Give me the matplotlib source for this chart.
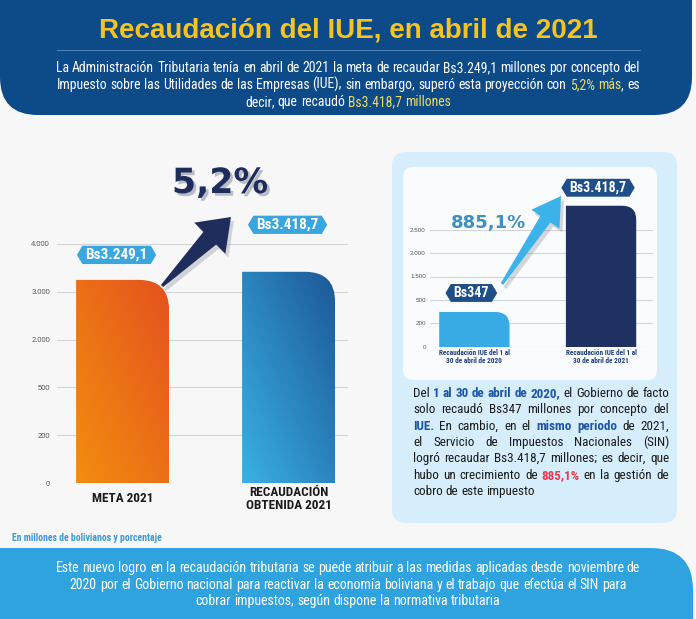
import numpy as np
import matplotlib
matplotlib.use('Agg')
import matplotlib.pyplot as plt
import matplotlib.transforms as mtransforms
import matplotlib.patheffects as pe
from matplotlib.patches import FancyBboxPatch, PathPatch, Polygon
from matplotlib.path import Path
from matplotlib.colors import LinearSegmentedColormap

W, H = 696, 619

# ---- data ----
left_cats = ['META 2021', 'RECAUDACIÓN\nOBTENIDA 2021']
left_vals = [3249.1, 3418.7]
left_labels = ['Bs3.249,1', 'Bs3.418,7']
left_ticks = [0, 200, 500, 2000, 3000, 4000]
left_ticklabels = ['0', '200', '500', '2.000', '3.000', '4.000']
left_growth = '5,2%'

right_cats = ['Recaudación IUE del 1 al\n30 de abril de 2020',
              'Recaudación IUE del 1 al\n30 de abril de 2021']
right_vals = [347, 3418.7]
right_labels = ['Bs347', 'Bs3.418,7']
right_ticks = [0, 200, 500, 1500, 2000, 2500]
right_ticklabels = ['0', '200', '500', '1.500', '2.000', '2.500']
right_growth = '885,1%'

title = 'Recaudación del IUE, en abril de 2021'
intro = [
    [('La Administración Tributaria tenía en abril de 2021 la meta de recaudar Bs3.249,1 millones por concepto del', 'w')],
    [('Impuesto sobre las Utilidades de las Empresas (IUE), sin embargo, superó esta proyección con ', 'w'),
     ('5,2% más', 'y'), (', es', 'w')],
    [('decir, que recaudó ', 'w'), ('Bs3.418,7 millones', 'y')],
]
note = [
    [('Del ', 'n'), ('1 al 30 de abril de 2020,', 'b'), (' el Gobierno de facto', 'n')],
    [('solo recaudó Bs347 millones por concepto del', 'n')],
    [('IUE.', 'b'), (' En cambio, en el ', 'n'), ('mismo periodo', 'b'), (' de 2021,', 'n')],
    [('el Servicio de Impuestos Nacionales (SIN)', 'n')],
    [('logró recaudar Bs3.418,7 millones; es decir, que', 'n')],
    [('hubo un crecimiento de ', 'n'), ('885,1%', 'r'), (' en la gestión de', 'n')],
    [('cobro de este impuesto', 'n')],
]
footer = [
    [('Este nuevo logro en la recaudación tributaria se puede atribuir a las medidas aplicadas desde noviembre de', 'w')],
    [('2020 por el Gobierno nacional para reactivar la economía boliviana y el trabajo que efectúa el SIN para', 'w')],
    [('cobrar impuestos, según dispone la normativa tributaria', 'w')],
]
source = 'En millones de bolivianos y porcentaje'

NARROW = ['Roboto Condensed', 'DejaVu Sans Condensed', 'Liberation Sans Narrow',
          'Liberation Sans', 'DejaVu Sans']
SANS = ['Liberation Sans', 'DejaVu Sans']
STYLES = {'w': ('white', 'normal'), 'y': ('#eedc62', 'normal'),
          'n': ('#1b1b1b', 'normal'), 'b': ('#1d56a6', 'bold'),
          'r': ('#e8394f', 'bold')}

fig = plt.figure(figsize=(W / 100, H / 100), dpi=100, facecolor='#f7f7f8')
px = mtransforms.Affine2D().scale(1 / W, -1 / H).translate(0, 1) + fig.transFigure
renderer = fig.canvas.get_renderer()


def box(x0, y0, x1, y1, color, r, z=0, **kw):
    fig.add_artist(FancyBboxPatch((x0, y0), x1 - x0, y1 - y0,
                                  boxstyle=f'round,pad=0,rounding_size={r}',
                                  transform=px, fc=color, ec='none', zorder=z, **kw))


def measure(s, size, weight):
    t = fig.text(0, 0, s, fontsize=size, fontweight=weight, family=NARROW)
    w = t.get_window_extent(renderer).width
    t.remove()
    return w


def tokens(segs):
    out, gap = [], False
    for text, st in segs:
        for i, w in enumerate(text.split(' ')):
            if i > 0:
                gap = True
            if w:
                out.append((w, st, gap and bool(out)))
                gap = False
    return out


def layout(segs, size):
    toks = tokens(segs)
    widths = [measure(w, size, STYLES[st][1]) for w, st, _ in toks]
    space = measure('a a', size, 'normal') - measure('aa', size, 'normal')
    ngaps = sum(sp for _, _, sp in toks)
    return toks, widths, space, ngaps


def natural_width(segs, size):
    toks, widths, space, ngaps = layout(segs, size)
    return sum(widths) + space * ngaps


def fit(lines, target, base=10.0):
    return base * target / max(natural_width(l, base) for l in lines)


def draw_line(segs, y, x0, x1, align, size):
    toks, widths, space, ngaps = layout(segs, size)
    if align == 'justify' and ngaps:
        gap = (x1 - x0 - sum(widths)) / ngaps
        x = x0
    else:
        gap = space
        tot = sum(widths) + gap * ngaps
        x = x0 if align == 'left' else (x0 + x1) / 2 - tot / 2
    for (w, st, sp), wd in zip(toks, widths):
        if sp:
            x += gap
        fig.text(x, y, w, transform=px, ha='left', va='baseline', fontsize=size,
                 color=STYLES[st][0], fontweight=STYLES[st][1], family=NARROW, zorder=5)
        x += wd


def hexbox(x0, y0, width, height, mutation_size):
    pad = 0.2 * mutation_size
    x0 -= pad
    y0 -= pad * 0.7
    width += 2 * pad
    height += 1.4 * pad
    tip = height * 0.3
    verts = [(x0, y0), (x0 + width, y0), (x0 + width + tip, y0 + height / 2),
             (x0 + width, y0 + height), (x0, y0 + height), (x0 - tip, y0 + height / 2),
             (x0, y0)]
    return Path(verts, closed=True)


def arrow(tail, tip, w_tail, w_shaft, head_len, head_half, color, z=4):
    t = np.array(tail, float)
    h = np.array(tip, float)
    u = (h - t) / np.hypot(*(h - t))
    n = np.array([-u[1], u[0]])
    base = h - u * head_len
    pts = [t + n * w_tail / 2, base + n * w_shaft / 2, base + n * head_half, h,
           base - n * head_half, base - n * w_shaft / 2, t - n * w_tail / 2]
    fig.add_artist(Polygon(np.array(pts) + [3, 4], closed=True, transform=px,
                           fc='#8a8f9a', ec='none', alpha=0.35, zorder=z - 0.1))
    fig.add_artist(Polygon(pts, closed=True, transform=px, fc=color, ec='none', zorder=z))


def rounded_bar(ax, rect, r):
    (x0, y0), (x1, y1) = ax.transData.transform(
        [(rect.get_x(), 0), (rect.get_x() + rect.get_width(), rect.get_height())])
    verts = [(x0, y0), (x0, y1), (x1 - r, y1), (x1, y1), (x1, y1 - r), (x1, y0), (x0, y0)]
    codes = [Path.MOVETO, Path.LINETO, Path.LINETO, Path.CURVE3, Path.CURVE3,
             Path.LINETO, Path.CLOSEPOLY]
    return Path(verts, codes), (x0, x1, y0, y1)


def setup_axes(rect_px, ticks, ticklabels, cats, vals, width, xlim, lsize, lcolor, pad):
    l, t, r, b = rect_px
    ax = fig.add_axes([l / W, 1 - b / H, (r - l) / W, (b - t) / H])
    ax.set_facecolor('none')
    ax.set_zorder(0.8)
    pos = np.arange(len(ticks), dtype=float)
    knots = list(ticks)
    if ticks[-1] == 2500:
        knots = knots + [3500]
        pos = np.append(pos, 6.1)
    fwd = lambda v: np.interp(v, knots, pos)
    inv = lambda p: np.interp(p, pos, knots)
    ax.set_yscale('function', functions=(fwd, inv))
    bars = ax.bar(range(len(vals)), vals, width=width, alpha=0)
    ax.set_xlim(*xlim)
    ax.set_ylim(ticks[0], ticks[-1])
    ax.set_yticks(ticks, ticklabels)
    ax.set_xticks(range(len(cats)), cats)
    ax.yaxis.grid(True, color='#d2d4d8', lw=0.8)
    ax.set_axisbelow(True)
    for s in ax.spines.values():
        s.set_visible(False)
    ax.tick_params(axis='y', length=0, pad=pad, labelsize=lsize[0], labelcolor='#555555')
    ax.tick_params(axis='x', length=0, pad=lsize[2], labelsize=lsize[1], labelcolor=lcolor)
    for lab in ax.get_yticklabels():
        lab.set_family(SANS)
    for lab in ax.get_xticklabels():
        lab.set_family(NARROW)
        lab.set_fontweight('bold')
        lab.set_va('center')
        lab.set_linespacing(1.0)
    return ax, bars


# ---- background shapes ----
box(0, -60, 692, 115, '#0c4a88', 38, z=1)
fig.add_artist(plt.Line2D([57, 640], [50, 50], transform=px, color='#4d7fb8', lw=0.8, zorder=2))
box(-60, 548, 693, 700, '#2fa3de', 42, z=1)
box(392, 152, 677, 523, '#d6edfb', 14, z=0.5)
box(403, 167, 657, 380, '#f9fbfd', 10, z=0.6)

fig.text(348, 30, title, transform=px, ha='center', va='center', fontsize=20,
         fontweight='bold', color='#f5c423', family=SANS, zorder=5)
s_intro = fit(intro, 583)
for line, y in zip(intro, [72, 89, 106]):
    draw_line(line, y, 0, W, 'center', s_intro)
s_note = min(fit(note[:-1], 254), 10.5)
for i, (line, y) in enumerate(zip(note, [397, 413, 430, 446, 462, 479, 495])):
    draw_line(line, y, 413, 669, 'left' if i == len(note) - 1 else 'justify', s_note)
s_foot = fit(footer, 582)
for line, y in zip(footer, [572, 589, 605]):
    draw_line(line, y, 0, W, 'center', s_foot)
fig.text(12, 538, source, transform=px, ha='left', va='center', fontsize=7,
         fontweight='bold', color='#3a9ad3', family=NARROW, zorder=5)

# ---- left chart ----
axL, barsL = setup_axes((57, 244, 348, 483), left_ticks, left_ticklabels, left_cats,
                        left_vals, 0.56, (-0.395, 1.358), (5.5, 9.5, 11.5), '#1b1b1b', 5)
cmaps = [LinearSegmentedColormap.from_list('o', ['#f38d10', '#e4521f']),
         LinearSegmentedColormap.from_list('b', ['#3bb0e6', '#1c5896'])]
n = 200
gi, gj = np.mgrid[0:n, 0:n] / (n - 1)
grad = (gj + (1 - gi)) / 2
for rect, cm in zip(barsL, cmaps):
    path, ext = rounded_bar(axL, rect, 30)
    patch = PathPatch(path, transform=mtransforms.IdentityTransform(), fc='none', ec='none')
    axL.add_patch(patch)
    patch.set_clip_on(False)
    im = axL.imshow(grad, cmap=cm, extent=ext, transform=mtransforms.IdentityTransform(),
                    aspect='auto', origin='upper', zorder=2, interpolation='bilinear')
    im.set_clip_path(patch)
axL.set_xlim(-0.395, 1.358)
axL.set_ylim(left_ticks[0], left_ticks[-1])
for i, (v, lab, off) in enumerate(zip(left_vals, left_labels, [(-6, 25), (-1, 47)])):
    axL.annotate(lab, (i, v), xytext=off, textcoords='offset pixels',
                 ha='center', va='center', fontsize=11, fontweight='bold', color='white',
                 family=NARROW, annotation_clip=False, zorder=6,
                 bbox=dict(boxstyle=hexbox, fc='#3aa6df', ec='none'))
arrow((162, 286), (231, 217), 3, 18, 30, 22, '#1f2d5c')
fig.text(220, 183, left_growth, transform=px, ha='center', va='center', fontsize=25,
         fontweight='bold', color='#1f2d5c', family=['DejaVu Sans'], zorder=6,
         path_effects=[pe.withSimplePatchShadow(offset=(2, -2), shadow_rgbFace='#7d8394', alpha=0.5)])

# ---- right chart ----
axR, barsR = setup_axes((430, 229.5, 653, 347), right_ticks, right_ticklabels, right_cats,
                        right_vals, 0.555, (-0.35, 1.41), (4.5, 5.2, 7.5), '#1f3f7a', 3)
for rect, c in zip(barsR, ['#39abe4', '#1f3160']):
    path, ext = rounded_bar(axR, rect, 14)
    patch = PathPatch(path, transform=mtransforms.IdentityTransform(), fc=c, ec='none', zorder=2)
    axR.add_patch(patch)
    patch.set_clip_on(False)
for i, (v, lab, off) in enumerate(zip(right_vals, right_labels, [(-3, 19), (-3, 18)])):
    axR.annotate(lab, (i, v), xytext=off, textcoords='offset pixels',
                 ha='center', va='center', fontsize=10, fontweight='bold', color='white',
                 family=NARROW, annotation_clip=False, zorder=6,
                 bbox=dict(boxstyle=hexbox, fc='#1e4f88', ec='none'))
arrow((502, 284), (561, 196), 3, 12, 28, 17, '#3bb3ea')
fig.text(489, 223, right_growth, transform=px, ha='center', va='center', fontsize=13,
         fontweight='bold', color='#3f8fc0', family=['DejaVu Sans'], zorder=6)

fig.savefig('out.png', dpi=100, facecolor=fig.get_facecolor())
